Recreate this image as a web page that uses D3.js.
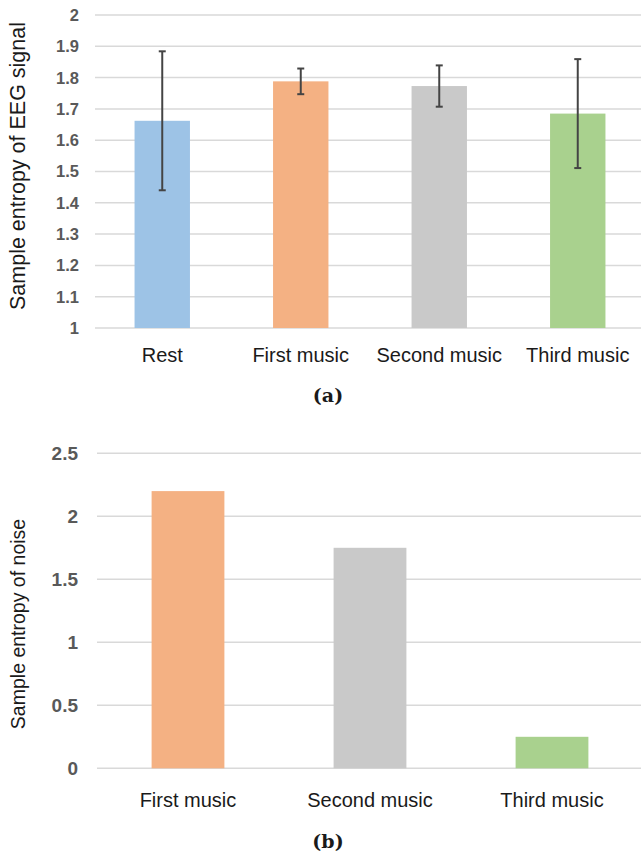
<!DOCTYPE html>
<html>
<head>
<meta charset="utf-8">
<script src="https://cdn.jsdelivr.net/npm/d3@7/dist/d3.min.js"></script>
<style>
  html, body { margin: 0; padding: 0; background: #fff; }
  svg { display: block; }
  .tick-label { font-family: "Liberation Sans", Arial, sans-serif; font-weight: bold; fill: #595959; }
  .cat-label { font-family: "Liberation Sans", Arial, sans-serif; fill: #1a1a1a; }
  .axis-title { font-family: "Liberation Sans", Arial, sans-serif; fill: #1a1a1a; }
  .caption { font-family: "DejaVu Serif", "Liberation Serif", serif; font-weight: bold; fill: #1a1a1a; }
</style>
</head>
<body>
<script>
// Panel (a): sample entropy of the EEG signal, mean with error bars
const eegCategories = ["Rest", "First music", "Second music", "Third music"];
const eegMeans = [1.662, 1.788, 1.773, 1.685];
const eegErrors = [0.222, 0.041, 0.066, 0.174];
const eegTicks = [1, 1.1, 1.2, 1.3, 1.4, 1.5, 1.6, 1.7, 1.8, 1.9, 2];

// Panel (b): sample entropy of the noise
const noiseCategories = ["First music", "Second music", "Third music"];
const noiseValues = [2.2, 1.75, 0.25];
const noiseTicks = [0, 0.5, 1, 1.5, 2, 2.5];

const barColors = {
  "Rest": "#9dc3e6",
  "First music": "#f4b183",
  "Second music": "#c9c9c9",
  "Third music": "#a9d18e"
};

const W = 641, H = 857;
const svg = d3.select("body").append("svg").attr("width", W).attr("height", H);

function drawPanel(cfg) {
  const g = svg.append("g");
  const x = d3.scaleBand().domain(cfg.categories).range(cfg.xRange).paddingInner(0.6).paddingOuter(0.3);
  const y = d3.scaleLinear().domain(cfg.yDomain).range(cfg.yRange);

  // horizontal gridlines
  g.selectAll("line.grid").data(cfg.ticks).join("line")
    .attr("class", "grid")
    .attr("x1", cfg.gridX[0]).attr("x2", cfg.gridX[1])
    .attr("y1", d => y(d)).attr("y2", d => y(d))
    .attr("stroke", "#d9d9d9").attr("stroke-width", 1.5);

  // tick labels
  g.selectAll("text.tick-label").data(cfg.ticks).join("text")
    .attr("class", "tick-label")
    .attr("x", cfg.tickX).attr("y", d => y(d)).attr("dy", "0.36em")
    .attr("text-anchor", "end")
    .style("font-size", cfg.tickSize + "px")
    .text(d => d3.format("")(d));

  // bars
  g.selectAll("rect.bar").data(cfg.categories).join("rect")
    .attr("class", "bar")
    .attr("x", d => x(d)).attr("width", x.bandwidth())
    .attr("y", (d, i) => y(cfg.values[i]))
    .attr("height", (d, i) => y(cfg.yDomain[0]) - y(cfg.values[i]))
    .attr("fill", d => barColors[d]);

  // error bars
  if (cfg.errors) {
    const eg = g.selectAll("g.err").data(cfg.categories).join("g").attr("class", "err");
    const cx = d => x(d) + x.bandwidth() / 2;
    eg.append("line")
      .attr("x1", cx).attr("x2", cx)
      .attr("y1", (d, i) => y(cfg.values[i] + cfg.errors[i]))
      .attr("y2", (d, i) => y(cfg.values[i] - cfg.errors[i]))
      .attr("stroke", "#444").attr("stroke-width", 2);
    [1, -1].forEach(s => {
      eg.append("line")
        .attr("x1", d => cx(d) - 3.5).attr("x2", d => cx(d) + 3.5)
        .attr("y1", (d, i) => y(cfg.values[i] + s * cfg.errors[i]))
        .attr("y2", (d, i) => y(cfg.values[i] + s * cfg.errors[i]))
        .attr("stroke", "#444").attr("stroke-width", 2);
    });
  }

  // category labels
  g.selectAll("text.cat-label").data(cfg.categories).join("text")
    .attr("class", "cat-label")
    .attr("x", d => x(d) + x.bandwidth() / 2)
    .attr("y", cfg.catY)
    .attr("text-anchor", "middle")
    .style("font-size", "20px")
    .text(d => d);

  // y axis title
  g.append("text")
    .attr("class", "axis-title")
    .attr("transform", `translate(${cfg.titleX},${cfg.titleY}) rotate(-90)`)
    .attr("text-anchor", "middle")
    .style("font-size", cfg.titleSize + "px")
    .text(cfg.title);

  // panel caption
  g.append("text")
    .attr("class", "caption")
    .attr("x", 328).attr("y", cfg.captionY)
    .attr("text-anchor", "middle")
    .style("font-size", "19px")
    .text(cfg.caption);
}

drawPanel({
  categories: eegCategories,
  values: eegMeans,
  errors: eegErrors,
  ticks: eegTicks,
  yDomain: [1, 2],
  yRange: [328, 15],
  xRange: [93, 647],
  gridX: [95, 641],
  tickX: 79,
  tickSize: 16.5,
  catY: 362,
  title: "Sample entropy of EEG signal",
  titleSize: 21.5,
  titleX: 25,
  titleY: 166,
  caption: "(a)",
  captionY: 402
});

drawPanel({
  categories: noiseCategories,
  values: noiseValues,
  errors: null,
  ticks: noiseTicks,
  yDomain: [0, 2.5],
  yRange: [768.3, 453.3],
  xRange: [97, 643],
  gridX: [97, 641],
  tickX: 78,
  tickSize: 19,
  catY: 807,
  title: "Sample entropy of noise",
  titleSize: 19.5,
  titleX: 25,
  titleY: 624,
  caption: "(b)",
  captionY: 848
});
</script>
</body>
</html>
